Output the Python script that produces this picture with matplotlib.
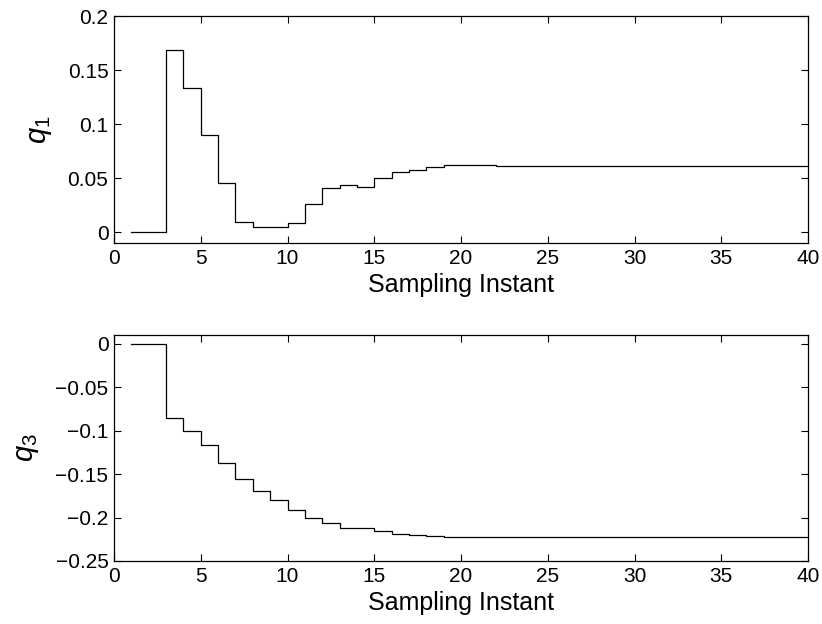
import matplotlib
matplotlib.use("Agg")
import matplotlib.pyplot as plt
import numpy as np

plt.rcParams['font.family'] = ['Liberation Sans', 'DejaVu Sans']
plt.rcParams['mathtext.fontset'] = 'custom'
plt.rcParams['mathtext.rm'] = 'Liberation Sans'
plt.rcParams['mathtext.it'] = 'Liberation Sans:italic'

k = list(range(1, 41))
q1 = [0.0, 0.0, 0.169, 0.1335, 0.0896, 0.0459, 0.0095, 0.0050, 0.0045, 0.0081,
      0.0258, 0.0409, 0.0434, 0.0419, 0.0500, 0.0561, 0.0574, 0.0602, 0.0621, 0.0622,
      0.0619, 0.0614, 0.0612, 0.0612, 0.0612, 0.0611, 0.0611, 0.0611, 0.0611, 0.0611,
      0.0611, 0.0611, 0.0611, 0.0611, 0.0611, 0.0611, 0.0611, 0.0611, 0.0611, 0.0611]
q3 = [0.0, 0.0, -0.085, -0.1007, -0.116, -0.1378, -0.1558, -0.170, -0.180, -0.191,
      -0.201, -0.206, -0.2125, -0.2117, -0.2155, -0.219, -0.2203, -0.2212, -0.2222, -0.2224,
      -0.2223, -0.2222, -0.2222, -0.2222, -0.2222, -0.2222, -0.2222, -0.2222, -0.2222, -0.2222,
      -0.2222, -0.2222, -0.2222, -0.2222, -0.2222, -0.2222, -0.2222, -0.2222, -0.2222, -0.2222]

xticks = [0, 5, 10, 15, 20, 25, 30, 35, 40]
yticks1 = [0, 0.05, 0.1, 0.15, 0.2]
ylabels1 = ['0', '0.05', '0.1', '0.15', '0.2']
yticks3 = [-0.25, -0.2, -0.15, -0.1, -0.05, 0]
ylabels3 = ['\u22120.25', '\u22120.2', '\u22120.15', '\u22120.1', '\u22120.05', '0']

W, H = 822, 624
fig = plt.figure(figsize=(W / 100, H / 100), dpi=100)

def make_ax(left, top, right, bottom):
    return fig.add_axes([left / W, 1 - bottom / H, (right - left) / W, (bottom - top) / H])

ax1 = make_ax(114, 16, 808, 243)
ax2 = make_ax(114, 335, 808, 561)

for ax, y, yt, yl, lim, lab in [
        (ax1, q1, yticks1, ylabels1, (-0.01, 0.2), r'$q_1$'),
        (ax2, q3, yticks3, ylabels3, (-0.25, 0.01), r'$q_3$')]:
    ax.step(k, y, where='post', color='black', lw=0.9)
    ax.set_xlim(0, 40)
    ax.set_ylim(*lim)
    ax.set_xticks(xticks)
    ax.set_xticklabels([str(v) for v in xticks])
    ax.set_yticks(yt)
    ax.set_yticklabels(yl)
    ax.tick_params(direction='in', top=True, right=True, length=5, width=0.8,
                   labelsize=15, pad=4)
    for s in ax.spines.values():
        s.set_linewidth(0.9)
    ax.set_xlabel('Sampling Instant', fontsize=18, labelpad=4)
    ax.set_ylabel(lab, fontsize=21, labelpad=10)

fig.savefig('out.png', dpi=100)
